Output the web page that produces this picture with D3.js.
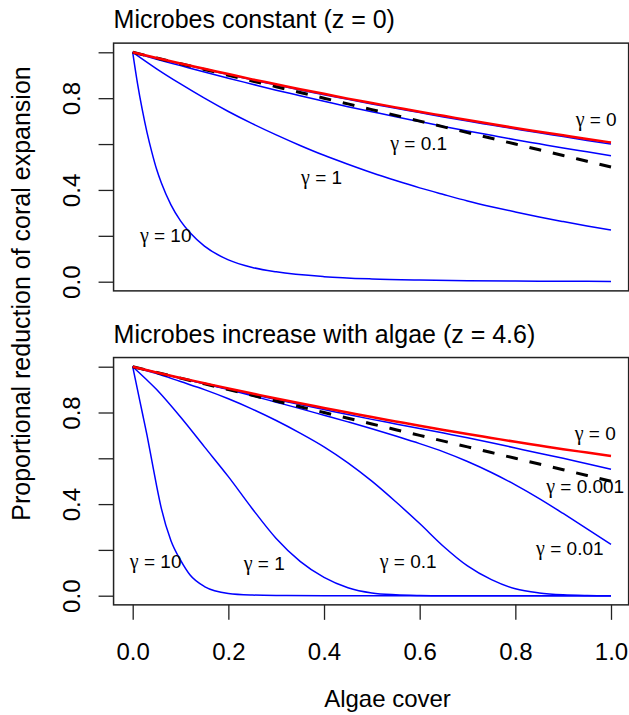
<!DOCTYPE html>
<html>
<head>
<meta charset="utf-8">
<script src="https://cdn.jsdelivr.net/npm/d3@7"></script>
<style>
body { margin: 0; background: #fff; }
text { font-family: "Liberation Sans", Arial, Helvetica, sans-serif; fill: #000; }
</style>
</head>
<body>
<div id="chart"></div>
<script>
// algae cover grids
var algae = [0, 0.05, 0.1, 0.15, 0.2, 0.25, 0.3, 0.35, 0.4, 0.45, 0.5,
             0.55, 0.6, 0.65, 0.7, 0.75, 0.8, 0.85, 0.9, 0.95, 1];
var algaeFine = [0, 0.01, 0.02, 0.03, 0.04, 0.05, 0.06, 0.08, 0.1, 0.12, 0.15,
                 0.2, 0.25, 0.3, 0.4, 0.5, 0.6, 0.7, 0.8, 0.9, 1];

var xTicks = [0, 0.2, 0.4, 0.6, 0.8, 1];
var yTicks = [0, 0.2, 0.4, 0.6, 0.8, 1];
var yTickLabels = ["0.0", "", "0.4", "", "0.8", ""];

// dashed reference (both panels)
var dashedRef = [1, 0.975, 0.95, 0.925, 0.9, 0.875, 0.85, 0.825, 0.8, 0.775, 0.75,
                 0.725, 0.7, 0.675, 0.65, 0.625, 0.6, 0.575, 0.55, 0.525, 0.5];

// top panel: microbes constant (z = 0)
var topGamma0 = [1, 0.975, 0.951, 0.928, 0.905, 0.882, 0.861, 0.839, 0.819, 0.798, 0.779,
                 0.76, 0.741, 0.723, 0.705, 0.687, 0.67, 0.654, 0.638, 0.622, 0.607];
var topGammaSmall = [1, 0.974, 0.95, 0.926, 0.903, 0.88, 0.858, 0.836, 0.815, 0.795, 0.775,
                     0.756, 0.737, 0.718, 0.7, 0.683, 0.666, 0.649, 0.633, 0.616, 0.6];
var topGamma01 = [1, 0.97, 0.942, 0.914, 0.887, 0.861, 0.835, 0.811, 0.787, 0.763, 0.741,
                  0.719, 0.698, 0.677, 0.657, 0.638, 0.619, 0.601, 0.583, 0.566, 0.549];
var topGamma1 = [1, 0.928, 0.862, 0.8, 0.742, 0.689, 0.64, 0.594, 0.551, 0.512, 0.475,
                 0.441, 0.409, 0.38, 0.352, 0.327, 0.304, 0.282, 0.262, 0.243, 0.225];
var topGamma10 = [1, 0.865, 0.75, 0.65, 0.565, 0.49, 0.43, 0.335, 0.265, 0.213, 0.155,
                  0.095, 0.062, 0.043, 0.022, 0.012, 0.007, 0.004, 0.003, 0.002, 0.001];

// bottom panel: microbes increase with algae (z = 4.6)
var botGamma0 = [1, 0.975, 0.951, 0.928, 0.905, 0.883, 0.861, 0.84, 0.82, 0.8, 0.78,
                 0.761, 0.742, 0.724, 0.706, 0.689, 0.672, 0.656, 0.64, 0.625, 0.61];
var botGamma0001 = [1, 0.975, 0.95, 0.926, 0.902, 0.879, 0.857, 0.835, 0.813, 0.791, 0.77,
                    0.75, 0.73, 0.71, 0.69, 0.668, 0.645, 0.622, 0.6, 0.576, 0.552];
var botGamma001 = [1, 0.975, 0.95, 0.925, 0.9, 0.873, 0.845, 0.817, 0.788, 0.759, 0.729,
                   0.697, 0.664, 0.628, 0.586, 0.538, 0.484, 0.424, 0.359, 0.292, 0.224];
var botGamma01 = [1, 0.97, 0.935, 0.9, 0.86, 0.815, 0.765, 0.71, 0.65, 0.58, 0.5,
                  0.41, 0.315, 0.215, 0.13, 0.07, 0.03, 0.012, 0.004, 0.001, 0];
var botGamma1 = [1, 0.9, 0.78, 0.65, 0.52, 0.38, 0.25, 0.15, 0.08, 0.035, 0.012,
                 0.004, 0.001, 0, 0, 0, 0, 0, 0, 0, 0];
var botGamma10 = [1, 0.9, 0.8, 0.7, 0.59, 0.48, 0.38, 0.24, 0.155, 0.09, 0.04,
                  0.01, 0.003, 0.001, 0, 0, 0, 0, 0, 0, 0];

// curve labels: gamma value, algae cover, proportion
var topLabelText = ["0", "0.1", "1", "10"];
var topLabelX = [0.969, 0.598, 0.395, 0.069];
var topLabelY = [0.709, 0.602, 0.454, 0.203];
var botLabelText = ["0", "0.001", "0.01", "0.1", "1", "10"];
var botLabelX = [0.967, 0.946, 0.914, 0.576, 0.275, 0.048];
var botLabelY = [0.708, 0.476, 0.206, 0.148, 0.141, 0.148];

var width = 629, height = 715;

var svg = d3.select("#chart").append("svg")
    .attr("width", width)
    .attr("height", height);

var x = d3.scaleLinear().domain([0, 1]).range([132.7, 611]);

function pairs(xs, ys) {
    return xs.map(function(d, i) { return [d, ys[i]]; });
}

var panels = [
    {
        title: "Microbes constant (z = 0)",
        titleY: 28,
        range: [281.7, 52.3],
        blue: [pairs(algae, topGammaSmall), pairs(algae, topGamma01),
               pairs(algae, topGamma1), pairs(algaeFine, topGamma10)],
        dashed: pairs(algae, dashedRef),
        red: pairs(algae, topGamma0),
        labels: topLabelText.map(function(t, i) { return [t, topLabelX[i], topLabelY[i]]; })
    },
    {
        title: "Microbes increase with algae (z = 4.6)",
        titleY: 343,
        range: [595.7, 366.7],
        blue: [pairs(algae, botGamma0001), pairs(algae, botGamma001), pairs(algae, botGamma01),
               pairs(algae, botGamma1), pairs(algaeFine, botGamma10)],
        dashed: pairs(algae, dashedRef),
        red: pairs(algae, botGamma0),
        labels: botLabelText.map(function(t, i) { return [t, botLabelX[i], botLabelY[i]]; })
    }
];

panels.forEach(function(p, k) {
    var y = d3.scaleLinear().domain([0, 1]).range(p.range);
    var g = svg.append("g");

    var line = d3.line()
        .x(function(d) { return x(d[0]); })
        .y(function(d) { return y(d[1]); })
        .curve(d3.curveMonotoneX);

    // y axis
    var yAxis = d3.axisLeft(y)
        .tickValues(yTicks)
        .tickSize(15)
        .tickFormat(function(d, i) { return yTickLabels[i]; });
    var ya = g.append("g")
        .attr("transform", "translate(" + x(-0.04) + ",0)")
        .call(yAxis);
    ya.select(".domain").remove();
    ya.selectAll(".tick line").attr("stroke", "#222").attr("stroke-width", 1.3);
    ya.selectAll(".tick text")
        .attr("transform", "rotate(-90)")
        .attr("x", 0).attr("y", -34).attr("dy", null)
        .attr("text-anchor", "middle")
        .style("font-size", "24px")
        .attr("fill", "#000");

    // x axis only under the bottom panel
    if (k === 1) {
        var xAxis = d3.axisBottom(x)
            .tickValues(xTicks)
            .tickSize(15)
            .tickPadding(23)
            .tickFormat(d3.format(".1f"));
        var xa = g.append("g")
            .attr("transform", "translate(0," + y(-0.04) + ")")
            .call(xAxis);
        xa.select(".domain").remove();
        xa.selectAll(".tick line").attr("stroke", "#222").attr("stroke-width", 1.3);
        xa.selectAll(".tick text").style("font-size", "24px").attr("fill", "#000");
    }

    // curves
    g.selectAll(".blue")
        .data(p.blue)
        .enter().append("path")
        .attr("class", "blue")
        .attr("d", line)
        .attr("fill", "none")
        .attr("stroke", "#0000ff")
        .attr("stroke-width", 1.5);

    g.append("path")
        .datum(p.dashed)
        .attr("d", line)
        .attr("fill", "none")
        .attr("stroke", "#000")
        .attr("stroke-width", 3)
        .attr("stroke-dasharray", "12,12");

    g.append("path")
        .datum(p.red)
        .attr("d", line)
        .attr("fill", "none")
        .attr("stroke", "#ff0000")
        .attr("stroke-width", 2.5);

    // labels
    var lab = g.selectAll(".lab")
        .data(p.labels)
        .enter().append("text")
        .attr("class", "lab")
        .attr("x", function(d) { return x(d[1]); })
        .attr("y", function(d) { return y(d[2]); })
        .attr("dy", "0.35em")
        .attr("text-anchor", "middle")
        .style("font-size", "19px");
    lab.append("tspan")
        .style("font-family", "'Liberation Serif', 'DejaVu Serif', serif")
        .style("font-size", "20px")
        .text("γ");
    lab.append("tspan")
        .text(function(d) { return " = " + d[0]; });

    // box
    g.append("rect")
        .attr("x", x(-0.04))
        .attr("y", y(1.04))
        .attr("width", x(1.04) - x(-0.04) - 1.5)
        .attr("height", y(-0.04) - y(1.04))
        .attr("fill", "none")
        .attr("stroke", "#222")
        .attr("stroke-width", 1.5);

    // title
    svg.append("text")
        .attr("x", x(-0.04))
        .attr("y", p.titleY)
        .style("font-size", "25px")
        .text(p.title);
});

svg.append("text")
    .attr("transform", "translate(30,293.5) rotate(-90)")
    .attr("text-anchor", "middle")
    .style("font-size", "25px")
    .text("Proportional reduction of coral expansion");

svg.append("text")
    .attr("x", 387.5)
    .attr("y", 707)
    .attr("text-anchor", "middle")
    .style("font-size", "24px")
    .text("Algae cover");
</script>
</body>
</html>
